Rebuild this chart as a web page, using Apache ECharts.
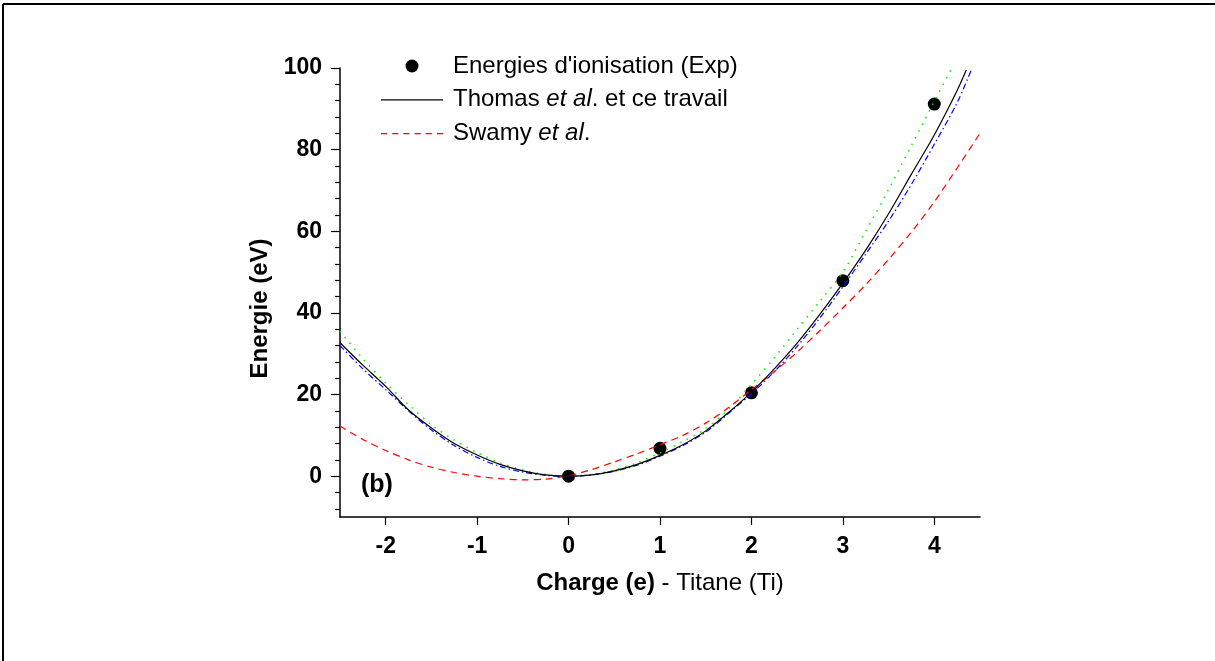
<!DOCTYPE html>
<html>
<head>
<meta charset="utf-8">
<script src="https://cdn.jsdelivr.net/npm/echarts@6/dist/echarts.min.js"></script>
<style>
html,body{margin:0;padding:0;background:#fff;}
#chart{width:1215px;height:661px;}
</style>
</head>
<body>
<div id="chart"></div>
<script>
// ---- data ----
const expCharge = [0, 1, 2, 3, 4];
const expEnergy = [0, 6.83, 20.41, 47.90, 91.17];

const thomasQ = [-2.5,-2.25,-2,-1.75,-1.5,-1.25,-1,-0.75,-0.5,-0.25,0,0.25,0.5,0.75,1,1.25,1.5,1.75,2,2.25,2.5,2.75,3,3.25,3.5,3.75,4,4.25,4.35];
const thomasE = [32.7,27.2,22.0,16.2,11.8,8.0,5.2,2.9,1.3,0.3,0,0.3,1.3,2.9,5.1,7.7,11.1,15.6,20.6,26.3,32.6,39.7,47.3,55.4,64.3,74.0,83.6,94.5,99.5];

const greenQ = [-2.5,-2.25,-2,-1.75,-1.5,-1.25,-1,-0.75,-0.5,-0.25,0,0.25,0.5,0.75,1,1.25,1.5,1.75,2,2.25,2.5,2.75,3,3.25,3.5,3.75,4,4.18];
const greenE = [35.5,28.8,22.8,17.5,12.6,8.8,5.8,3.3,1.5,0.4,0,0.4,1.5,3.3,5.7,8.5,11.6,16.4,22.5,29.0,36.0,42.9,50.0,60.0,70.2,81.0,91.8,99.5];

const blueQ = [-2.5,-2.25,-2,-1.75,-1.5,-1.25,-1,-0.75,-0.5,-0.25,0,0.25,0.5,0.75,1,1.25,1.5,1.75,2,2.25,2.5,2.75,3,3.25,3.5,3.75,4,4.25,4.41];
const blueE = [32.0,26.3,21.2,16.0,11.3,7.5,4.6,2.4,1.0,0.2,0,0.3,1.2,2.7,4.9,7.5,10.8,15.4,20.2,25.6,31.8,38.8,46.4,54.4,62.5,71.5,81.3,91.5,99.8];

const swamyQ = [-2.5,-2.25,-2,-1.75,-1.5,-1.25,-1,-0.75,-0.5,-0.25,0,0.25,0.5,0.75,1,1.25,1.5,1.75,2,2.25,2.5,2.75,3,3.25,3.5,3.75,4,4.25,4.5];
const swamyE = [12.3,9.0,6.3,4.0,2.2,0.9,0.0,-0.6,-0.9,-0.7,0.1,1.6,3.5,5.5,7.7,10.0,13.0,16.8,21.2,25.6,30.4,35.7,41.2,46.9,53.1,59.8,67.2,75.5,84.0];

const xTickValues = [-2, -1, 0, 1, 2, 3, 4];
const yMajorTicks = [0, 20, 40, 60, 80, 100];
const yMinorTicks = [-8,-4,4,8,12,16,24,28,32,36,44,48,52,56,64,68,72,76,84,88,92,96];

const nameExp = "Energies d'ionisation (Exp)";
const nameThomas = "Thomas et al. et ce travail";
const nameSwamy = "Swamy et al.";

function pairs(xs, ys){ return xs.map((x,i)=>[x, ys[i]]); }

const FONT = "'Liberation Sans', Arial, sans-serif";
const ICON_SOLID = 'path://M0,0H62V1.2H0Z';
const ICON_DASHED = 'path://M0,0H6V1.2H0Z M11,0H17V1.2H11Z M22,0H28V1.2H22Z M33,0H39V1.2H33Z M44,0H50V1.2H44Z M55,0H61V1.2H55Z';

const chart = echarts.init(document.getElementById('chart'), null, {renderer:'canvas'});
chart.setOption({
  animation: false,
  backgroundColor: '#ffffff',
  textStyle: {fontFamily: FONT},
  grid: {left: 340, top: 68, width: 640, height: 449, containLabel: false},
  xAxis: {
    type: 'value', min: -2.5, max: 4.5,
    axisLine: {show: true, onZero: false, lineStyle: {color: '#000', width: 1.5}},
    axisTick: {show: true, inside: false, length: 8, customValues: xTickValues, lineStyle: {color: '#000', width: 1.2}},
    axisLabel: {customValues: xTickValues, margin: 18, color: '#000', fontSize: 23, fontWeight: 'bold', fontFamily: FONT},
    splitLine: {show: false},
    name: '{b|Charge (e)}{n| - Titane (Ti)}',
    nameLocation: 'middle', nameGap: 54,
    nameTextStyle: {
      rich: {
        b: {fontSize: 24, fontWeight: 'bold', color: '#000', fontFamily: FONT},
        n: {fontSize: 24, color: '#000', fontFamily: FONT}
      }
    }
  },
  yAxis: [{
    type: 'value', min: -10, max: 100, position: 'left',
    axisLine: {show: true, onZero: false, lineStyle: {color: '#000', width: 1.5}},
    axisTick: {show: true, inside: false, length: 9, customValues: yMajorTicks, lineStyle: {color: '#000', width: 1.2}},
    axisLabel: {customValues: yMajorTicks, margin: 18, color: '#000', fontSize: 23, fontWeight: 'bold', fontFamily: FONT},
    splitLine: {show: false},
    name: 'Energie (eV)', nameLocation: 'middle', nameGap: 66, nameRotate: 90,
    nameTextStyle: {fontSize: 24, fontWeight: 'bold', color: '#000', fontFamily: FONT, padding: [0, 32, 0, 0]}
  }, {
    type: 'value', min: -10, max: 100, position: 'left', offset: 0,
    axisLine: {show: false, onZero: false},
    axisTick: {show: true, inside: false, length: 5, customValues: yMinorTicks, lineStyle: {color: '#000', width: 1.2}},
    axisLabel: {show: false},
    splitLine: {show: false}
  }],
  legend: {
    left: 381, top: 54, orient: 'vertical', padding: 0,
    itemWidth: 62, itemHeight: 13, itemGap: 9.8,
    data: [
      {name: nameExp, icon: 'circle', itemStyle: {color: '#000'}},
      {name: nameThomas, icon: ICON_SOLID, itemStyle: {color: '#000'}},
      {name: nameSwamy, icon: ICON_DASHED, itemStyle: {color: '#ff0000'}}
    ],
    formatter: function(name){
      if (name === nameThomas) return '{n|Thomas }{i|et al}{n|. et ce travail}';
      if (name === nameSwamy) return '{n|Swamy }{i|et al}{n|.}';
      return '{n|' + name + '}';
    },
    textStyle: {
      color: '#000', fontFamily: FONT, fontSize: 24, padding: [0,0,0,5],
      rich: {
        n: {fontSize: 24, color: '#000', fontFamily: FONT, lineHeight: 24},
        i: {fontSize: 24, color: '#000', fontFamily: FONT, fontStyle: 'italic', lineHeight: 24}
      }
    }
  },
  graphic: [
    {type: 'line', shape: {x1: 3, y1: 4, x2: 1215, y2: 4}, style: {stroke: '#000', lineWidth: 2}, silent: true},
    {type: 'line', shape: {x1: 3, y1: 4, x2: 3, y2: 661}, style: {stroke: '#000', lineWidth: 2}, silent: true},
    {type: 'text', left: 361, top: 473, style: {text: '(b)', fontSize: 25, fontWeight: 'bold', fill: '#000', fontFamily: FONT}, silent: true}
  ],
  series: [
    {
      name: nameExp, type: 'scatter', symbol: 'circle', symbolSize: 13,
      itemStyle: {color: '#000', opacity: 1}, data: pairs(expCharge, expEnergy), z: 2
    },
    {
      name: 'Courbe verte', type: 'line', smooth: 0.3, showSymbol: false, symbol: 'none',
      lineStyle: {color: '#00ee00', width: 1.5, type: [1.5, 6]},
      data: pairs(greenQ, greenE), z: 3
    },
    {
      name: 'Courbe bleue', type: 'line', smooth: 0.3, showSymbol: false, symbol: 'none',
      lineStyle: {color: '#0000ff', width: 1.2, type: [6, 3, 1.5, 3]},
      data: pairs(blueQ, blueE), z: 3
    },
    {
      name: nameSwamy, type: 'line', smooth: 0.3, showSymbol: false, symbol: 'none',
      itemStyle: {color: '#ff0000'},
      lineStyle: {color: '#ff0000', width: 1.2, type: [7, 5]},
      data: pairs(swamyQ, swamyE), z: 3
    },
    {
      name: nameThomas, type: 'line', smooth: 0.3, showSymbol: false, symbol: 'none',
      itemStyle: {color: '#000'},
      lineStyle: {color: '#000', width: 1.2},
      data: pairs(thomasQ, thomasE), z: 4
    }
  ]
});
</script>
</body>
</html>
